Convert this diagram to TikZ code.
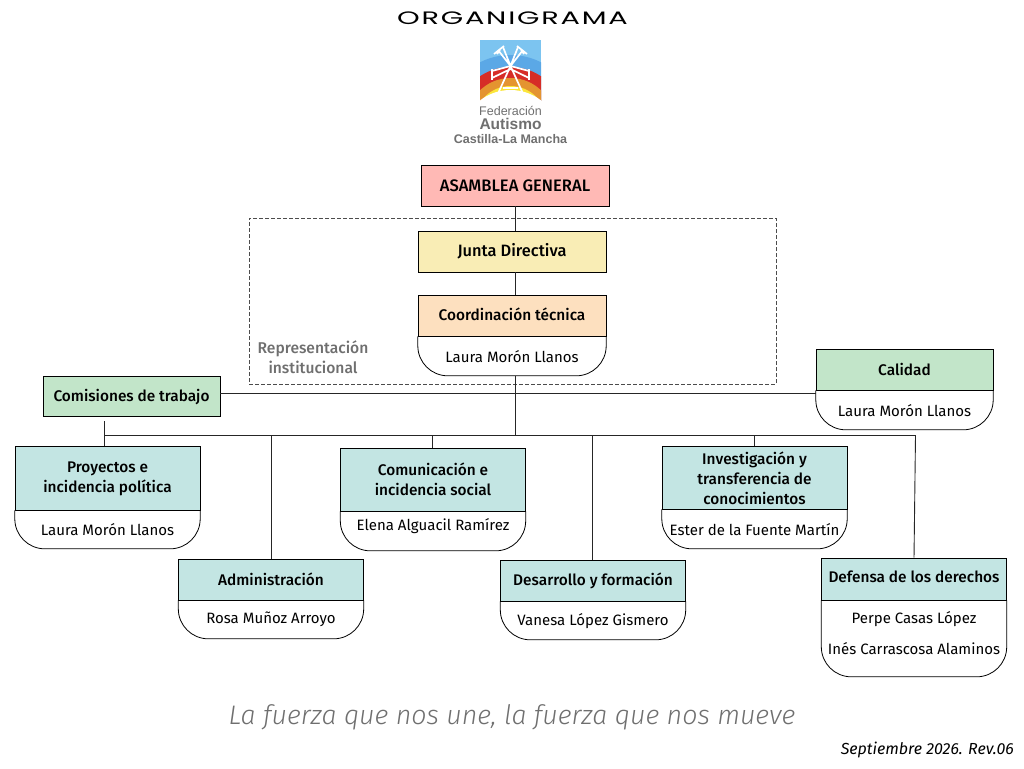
\documentclass[tikz,border=0pt]{standalone}
\usepackage{fontspec}
\setmainfont[BoldFont={Fira Sans Medium},ItalicFont={Fira Sans Light Italic}]{Fira Sans}
\newfontfamily\titlefont[FakeStretch=1.6,LetterSpace=10]{Poppins}
\newfontfamily\logofont{Liberation Sans}
\newfontfamily\fechafont{Fira Sans Italic}
\usetikzlibrary{positioning}
\definecolor{asambleaRed}{HTML}{FFB9B5}
\definecolor{juntaYellow}{HTML}{F9EDB5}
\definecolor{coordOrange}{HTML}{FDE0BF}
\definecolor{staffGreen}{HTML}{C2E5C9}
\definecolor{areaTeal}{HTML}{C3E5E3}
\definecolor{softGrey}{HTML}{6F6F6F}
\definecolor{logoSky}{HTML}{7CC4F0}
\definecolor{logoBlue}{HTML}{5BA8E6}
\definecolor{logoRed}{HTML}{D62D27}
\definecolor{logoOrange}{HTML}{E49430}
\definecolor{logoYellow}{HTML}{FBE63B}
\newcommand{\roundbody}[1]{\draw[rounded corners=30pt, line width=0.8pt] (#1.north west) -- (#1.south west) -- (#1.south east) -- (#1.north east);}
\begin{document}
\begin{tikzpicture}[
  x=1pt, y=-1pt,
  font=\fontsize{15}{20}\selectfont,
  head/.style={draw, line width=0.8pt, align=center, inner sep=0pt, font=\fontsize{15.4}{20}\selectfont\bfseries,
               minimum width=185pt},
  persona/.style={align=center, inner sep=0pt, minimum width=185pt},
  link/.style={line width=0.9pt, draw=black!85},
  aspa/.style={white, line width=1.7pt}
]
\useasboundingbox (0,0) rectangle (1024,768);

% logo
\begin{scope}
\clip (480,40) rectangle (541,100);
\fill[logoSky] (480,40) rectangle (541,100);
\fill[logoBlue] (510.5,122) circle (67);
\fill[logoRed] (510.5,122) circle (55);
\fill[logoOrange] (510.5,122) circle (44);
\fill[logoYellow] (510.5,122) circle (36);
\fill[white] (510.5,140) circle (50);
\draw[aspa] (510.5,66) -- (498,50) (503,47) -- (510.5,66) -- (518,47) (523,50) -- (510.5,66);
\draw[aspa] (494,54) -- (504,46) (517,46) -- (527,54) (497,54) -- (500,50) (521,50) -- (524,54);
\draw[aspa] (510.5,66) -- (492,71) (510.5,69) -- (492,78) (510.5,66) -- (529,71) (510.5,69) -- (529,78);
\draw[aspa] (492,69) -- (492,80) (529,69) -- (529,80);
\draw[aspa] (510.5,66) -- (496,98) (510.5,66) -- (525,98) (503,88) -- (518,88);
\end{scope}

\node (titulo) at (512.5,18.5) {\titlefont\fontsize{18}{20}\selectfont ORGANIGRAMA};
\node[text=softGrey] (logoa) at (510.5,110.5) {\logofont\fontsize{12.5}{14}\selectfont Federación};
\node[text=softGrey] (logob) at (510.5,124) {\logofont\fontsize{15.5}{16}\selectfont\bfseries Autismo};
\node[text=softGrey] (logoc) at (510.5,139) {\logofont\fontsize{12.5}{14}\selectfont\bfseries Castilla-La Mancha};

% dashed frame and its label
\node[draw=black!70, dash pattern=on 4pt off 2pt, line width=0.8pt, minimum width=527pt, minimum height=166pt, inner sep=0pt] (marco) at (512.5,301) {};
\node[text=softGrey, align=center, font=\fontsize{15.6}{20}\selectfont\bfseries] (repre) at (313,357) {Representación\\institucional};

% governing bodies
\node[head, fill=asambleaRed, minimum width=188pt, minimum height=41pt, font=\fontsize{16.6}{20}\selectfont\bfseries] (asamblea) at (515,185.5) {\rule{0pt}{13pt}ASAMBLEA GENERAL};
\node[head, fill=juntaYellow, minimum width=188pt, minimum height=41pt, font=\fontsize{16.4}{20}\selectfont\bfseries] (junta) at (512,251.5) {\rule{0pt}{13pt}Junta Directiva};
\node[head, fill=coordOrange, minimum width=188pt, minimum height=41pt] (coord) at (512,315.5) {\raisebox{2pt}{Coordinación técnica}};
\node[persona, minimum width=188pt, minimum height=39pt, below=0pt of coord] (coordp) {Laura Morón Llanos};

% support bodies
\node[head, fill=staffGreen, minimum width=177pt, minimum height=40pt] (comisiones) at (131.5,396) {\rule{0pt}{15pt}Comisiones de trabajo};
\node[head, fill=staffGreen, minimum width=177pt, minimum height=41pt] (calidad) at (904.5,369.5) {\rule{0pt}{13pt}Calidad};
\node[persona, minimum width=177pt, minimum height=39pt, below=0pt of calidad] (calidadp) {Laura Morón Llanos};

% areas
\node[head, fill=areaTeal, minimum height=64pt] (proyectos) at (107.5,478) {\rule{0pt}{13pt}Proyectos e\\incidencia política};
\node[persona, minimum height=38pt, below=0pt of proyectos] (proyectosp) {Laura Morón Llanos};
\node[head, fill=areaTeal, minimum height=41pt] (admin) at (271,579.5) {Administración};
\node[persona, minimum height=38pt, below=0pt of admin] (adminp) {Rosa Muñoz Arroyo};
\node[head, fill=areaTeal, minimum height=63pt] (comunica) at (433,479.5) {Comunicación e\\incidencia social};
\node[persona, minimum height=39pt, below=0pt of comunica] (comunicap) {\raisebox{13pt}{Elena Alguacil Ramírez}};
\node[head, fill=areaTeal, minimum height=41pt] (desarrollo) at (593,580.5) {\rule{0pt}{13pt}Desarrollo y formación};
\node[persona, minimum height=38pt, below=0pt of desarrollo] (desarrollop) {Vanesa López Gismero};
\node[head, fill=areaTeal, minimum height=63pt] (investiga) at (754.5,477.5) {\rule{0pt}{15pt}Investigación y\\transferencia de\\conocimientos};
\node[persona, minimum height=39pt, below=0pt of investiga] (investigap) {Ester de la Fuente Martín};
\node[head, fill=areaTeal, minimum height=42pt] (defensa) at (914,579) {\raisebox{4pt}{Defensa de los derechos}};
\node[persona, minimum height=76pt, below=0pt of defensa, font=\fontsize{15}{31}\selectfont] (defensap) {Perpe Casas López\\Inés Carrascosa Alaminos\\[-20pt]};

\roundbody{coordp}
\roundbody{calidadp}
\roundbody{proyectosp}
\roundbody{adminp}
\roundbody{comunicap}
\roundbody{desarrollop}
\roundbody{investigap}
\roundbody{defensap}

% bus points
\coordinate (buscentro) at (515,435);
\coordinate (busizq) at (104.5,435);
\coordinate (busder) at (915.5,435);
\coordinate (comisionesbajo) at (104.5,421);

\draw[link] (asamblea.south -| buscentro) -- (junta.north -| buscentro);
\draw[link] (junta.south -| buscentro) -- (coord.north -| buscentro);
\draw[link] (coordp.south -| buscentro) -- (buscentro);
\draw[link] (comisiones.east |- 0,393.5) -- (calidad.south west |- 0,393.5);
\draw[link] (busizq) -- (busder);
\draw[link] (comisionesbajo) -- (proyectos.north -| busizq);
\draw[link] (admin.north) -- (admin.north |- buscentro);
\draw[link] (comunica.north -| 432,0) -- (432,435);
\draw[link] (desarrollo.north -| 592,0) -- (592,435);
\draw[link] (investiga.north) -- (investiga.north |- buscentro);
\draw[link] (busder) -- (defensa.north -| 914,0);

% footer
\node[text=softGrey, font=\fontsize{26.8}{30}\selectfont\itshape] (lema) at (512,717.5) {La fuerza que nos une, la fuerza que nos mueve};
\node[font=\fontsize{16}{16}\selectfont\fechafont, anchor=east, inner sep=0pt] (fecha) at (1014,750) {Septiembre 2026. Rev.06};
\end{tikzpicture}
\end{document}
